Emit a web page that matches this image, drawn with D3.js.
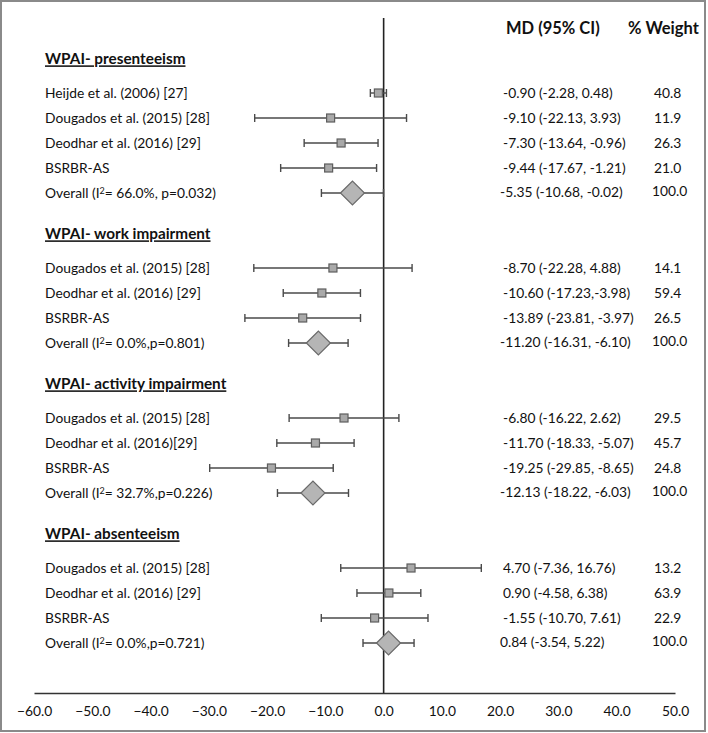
<!DOCTYPE html>
<html>
<head>
<meta charset="utf-8">
<script src="https://cdn.jsdelivr.net/npm/d3@7"></script>
<style>
html,body{margin:0;padding:0;background:#fff;}
svg{display:block;}
text{font-family:Lato,"Open Sans",sans-serif;fill:#111;}
</style>
</head>
<body>
<script>
// ---------- data ----------
const sections = ["WPAI- presenteeism","WPAI- work impairment","WPAI- activity impairment","WPAI- absenteeism"];
// row slot index for each section header
const headerSlots = [0, 7, 13, 19];

const studyLabels = [
  ["Heijde et al. (2006) [27]","Dougados et al. (2015) [28]","Deodhar et al. (2016) [29]","BSRBR-AS"],
  ["Dougados et al. (2015) [28]","Deodhar et al. (2016) [29]","BSRBR-AS"],
  ["Dougados et al. (2015) [28]","Deodhar et al. (2016)[29]","BSRBR-AS"],
  ["Dougados et al. (2015) [28]","Deodhar et al. (2016) [29]","BSRBR-AS"]
];
const studyMD = [[-0.90,-9.10,-7.30,-9.44],[-8.70,-10.60,-13.89],[-6.80,-11.70,-19.25],[4.70,0.90,-1.55]];
const studyLo = [[-2.28,-22.13,-13.64,-17.67],[-22.28,-17.23,-23.81],[-16.22,-18.33,-29.85],[-7.36,-4.58,-10.70]];
const studyHi = [[0.48,3.93,-0.96,-1.21],[4.88,-3.98,-3.97],[2.62,-5.07,-8.65],[16.76,6.38,7.61]];
const studyCI = [
  ["-0.90 (-2.28, 0.48)","-9.10 (-22.13, 3.93)","-7.30 (-13.64, -0.96)","-9.44 (-17.67, -1.21)"],
  ["-8.70 (-22.28, 4.88)","-10.60 (-17.23,-3.98)","-13.89 (-23.81, -3.97)"],
  ["-6.80 (-16.22, 2.62)","-11.70 (-18.33, -5.07)","-19.25 (-29.85, -8.65)"],
  ["4.70 (-7.36, 16.76)","0.90 (-4.58, 6.38)","-1.55 (-10.70, 7.61)"]
];
const studyWeight = [["40.8","11.9","26.3","21.0"],["14.1","59.4","26.5"],["29.5","45.7","24.8"],["13.2","63.9","22.9"]];

const overallI2 = ["66.0%, p=0.032","0.0%,p=0.801","32.7%,p=0.226","0.0%,p=0.721"];
const overallMD = [-5.35,-11.20,-12.13,0.84];
const overallLo = [-10.68,-16.31,-18.22,-3.54];
const overallHi = [-0.02,-6.10,-6.03,5.22];
const overallCI = ["-5.35 (-10.68, -0.02)","-11.20 (-16.31, -6.10)","-12.13 (-18.22, -6.03)","0.84 (-3.54, 5.22)"];
const overallWeight = ["100.0","100.0","100.0","100.0"];

const xTicks = [-60,-50,-40,-30,-20,-10,0,10,20,30,40,50];
const colHeaders = ["MD (95% CI)","% Weight"];

// ---------- layout ----------
const W = 708, H = 733;
const svg = d3.select("body").append("svg").attr("width", W).attr("height", H);

svg.append("rect").attr("x",1).attr("y",1).attr("width",W-4).attr("height",H-3)
  .attr("fill","#fff").attr("stroke","#8a8a8a").attr("stroke-width",2);

const x = d3.scaleLinear().domain([-60,50]).range([34,675]);
const y = d3.scaleLinear().domain([1,23]).range([93,643]);
const axisY = 693;

const lineCol = "#4a4a4a";
const fillCol = "#a9a9a9";
const strokeCol = "#5e5e5e";

// zero line
svg.append("line").attr("x1",x(0)).attr("x2",x(0)).attr("y1",18).attr("y2",axisY)
  .attr("stroke","#222").attr("stroke-width",1.6);

// axis
const axis = d3.axisBottom(x).tickValues(xTicks).tickSize(0).tickPadding(13)
  .tickFormat(d3.format(".1f"));
const gAx = svg.append("g").attr("transform",`translate(0,${axisY})`).call(axis);
gAx.select(".domain").attr("stroke","#333").attr("stroke-width",1.6);
gAx.selectAll("text").attr("font-size",13.8).attr("font-family","Lato,sans-serif").attr("fill","#222");

// column headers
const colX = [503, 654];
svg.append("text").attr("x",506).attr("y",28).attr("dy","0.35em")
  .attr("font-size",16.5).attr("font-weight","bold").text(colHeaders[0]);
svg.append("text").attr("x",628).attr("y",28).attr("dy","0.35em")
  .attr("font-size",16.5).attr("font-weight","bold").text(colHeaders[1]);

const fs = 13.8;
const labelX = 45;

function errBar(yy, lo, hi){
  svg.append("line").attr("x1",x(lo)).attr("x2",x(hi)).attr("y1",yy).attr("y2",yy)
    .attr("stroke",lineCol).attr("stroke-width",1.4);
  [lo,hi].forEach(v=>{
    svg.append("line").attr("x1",x(v)).attr("x2",x(v)).attr("y1",yy-4).attr("y2",yy+4)
      .attr("stroke",lineCol).attr("stroke-width",1.4);
  });
}

sections.forEach((sec, s) => {
  const hs = headerSlots[s];
  svg.append("text").attr("x",labelX).attr("y",y(hs)-9).attr("dy","0.35em")
    .attr("font-size",15.3).attr("font-weight","bold")
    .attr("text-decoration","underline").text(sec);
  studyLabels[s].forEach((lab, i) => {
    const yy = y(hs + 1 + i);
    svg.append("text").attr("x",labelX).attr("y",yy).attr("dy","0.35em").attr("font-size",fs).text(lab);
    errBar(yy, studyLo[s][i], studyHi[s][i]);
    svg.append("rect").attr("x",x(studyMD[s][i])-4).attr("y",yy-4).attr("width",8).attr("height",8)
      .attr("fill",fillCol).attr("stroke",strokeCol).attr("stroke-width",1.2);
    svg.append("text").attr("x",colX[0]).attr("y",yy).attr("dy","0.35em").attr("font-size",fs).text(studyCI[s][i]);
    svg.append("text").attr("x",colX[1]).attr("y",yy).attr("dy","0.35em").attr("font-size",fs).text(studyWeight[s][i]);
  });
  const yo = y(hs + 1 + studyLabels[s].length);
  const t = svg.append("text").attr("x",labelX).attr("y",yo).attr("dy","0.35em").attr("font-size",fs);
  t.append("tspan").text("Overall (I");
  t.append("tspan").attr("font-size",9).attr("dy","-0.45em").text("2");
  t.append("tspan").attr("dy","0.3em").text("= " + overallI2[s] + ")");
  errBar(yo, overallLo[s], overallHi[s]);
  const cx = x(overallMD[s]);
  svg.append("path").attr("d",`M${cx-12},${yo} L${cx},${yo-12} L${cx+12},${yo} L${cx},${yo+12} Z`)
    .attr("fill","#b5b5b5").attr("stroke","#6a6a6a").attr("stroke-width",1.2);
  svg.append("text").attr("x",colX[0]-3).attr("y",yo-1).attr("dy","0.35em").attr("font-size",fs).text(overallCI[s]);
  svg.append("text").attr("x",colX[1]-2).attr("y",yo-2).attr("dy","0.35em").attr("font-size",fs).text(overallWeight[s]);
});
</script>
</body>
</html>
